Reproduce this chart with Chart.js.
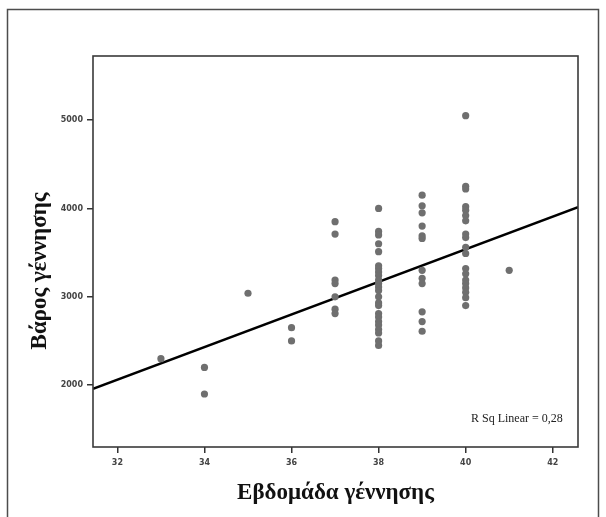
<!DOCTYPE html>
<html>
<head>
<meta charset="utf-8">
<title>Βάρος γέννησης</title>
<script src="https://cdn.jsdelivr.net/npm/chart.js@4.4.1/dist/chart.umd.min.js"></script>
<style>
  html, body { margin: 0; padding: 0; background: #fff; }
  canvas { display: block; }
</style>
</head>
<body>
<canvas id="grafico" width="606" height="517"></canvas>
<script>
// semanas y pesos, uno por punto
const semanas = [
    33,
    34, 34,
    35,
    36, 36,
    37, 37, 37, 37, 37, 37, 37,
    38, 38, 38, 38, 38, 38, 38, 38, 38, 38, 38, 38, 38, 38, 38, 38, 38, 38, 38, 38, 38, 38, 38, 38,
    39, 39, 39, 39, 39, 39, 39, 39, 39, 39, 39, 39,
    40, 40, 40, 40, 40, 40, 40, 40, 40, 40, 40, 40, 40, 40, 40, 40, 40, 40, 40,
    41
];
const pesos = [
    2300,
    2200, 1900,
    3040,
    2650, 2500,
    3850, 3710, 3190, 3150, 3000, 2860, 2810,
    4000, 3740, 3700, 3600, 3510, 3350, 3320, 3280, 3240, 3190, 3150, 3110, 3070, 3000, 2930, 2900, 2810, 2770, 2720, 2680, 2630, 2590, 2500, 2450,
    4150, 4030, 3950, 3800, 3690, 3660, 3300, 3210, 3150, 2830, 2720, 2610,
    5050, 4250, 4220, 4020, 3980, 3920, 3860, 3710, 3670, 3560, 3490, 3320, 3260, 3190, 3150, 3100, 3050, 2990, 2900,
    3300
];

const rectaX = [31.44, 42.58];
const rectaY = [1958, 4015];

const ticksX = [32, 34, 36, 38, 40, 42];
const ticksY = [2000, 3000, 4000, 5000];
const rangoX = [31.44, 42.58];
const rangoY = [1300, 5725];

const tituloX = 'Εβδομάδα γέννησης';
const tituloY = 'Βάρος γέννησης';
const textoR2 = 'R Sq Linear = 0,28';

const puntos = semanas.map((s, i) => ({ x: s, y: pesos[i] }));
const recta = rectaX.map((x, i) => ({ x: x, y: rectaY[i] }));

const fuenteTicks = { family: 'DejaVu Sans', size: 8, weight: 'bold' };
const fuenteTitulo = { family: 'Liberation Serif', size: 23, weight: 'bold' };

const marcoPlugin = {
    id: 'marco',
    beforeDraw(chart) {
        const ctx = chart.ctx;
        ctx.save();
        ctx.fillStyle = '#fff';
        ctx.fillRect(0, 0, chart.width, chart.height);
        ctx.restore();
    },
    afterDraw(chart) {
        const ctx = chart.ctx;
        const a = chart.chartArea;
        ctx.save();
        // marco exterior (sin borde inferior)
        ctx.strokeStyle = '#4d4d4d';
        ctx.lineWidth = 1.5;
        ctx.beginPath();
        ctx.moveTo(7.5, 517);
        ctx.lineTo(7.5, 9.5);
        ctx.lineTo(598.5, 9.5);
        ctx.lineTo(598.5, 517);
        ctx.stroke();
        // caja del grafico
        ctx.strokeStyle = '#3a3a3a';
        ctx.lineWidth = 1.6;
        ctx.strokeRect(a.left, a.top, a.right - a.left, a.bottom - a.top);
        // titulo eje Y
        ctx.fillStyle = '#111';
        ctx.font = 'bold 23px "Liberation Serif"';
        ctx.textAlign = 'center';
        ctx.textBaseline = 'middle';
        ctx.translate(40, 271);
        ctx.rotate(-Math.PI / 2);
        ctx.fillText(tituloY, 0, 0);
        ctx.restore();
        // R cuadrado
        ctx.save();
        ctx.fillStyle = '#222';
        ctx.font = '12px "Liberation Serif"';
        ctx.textAlign = 'left';
        ctx.textBaseline = 'alphabetic';
        ctx.fillText(textoR2, 471, 422);
        ctx.restore();
    }
};

new Chart(document.getElementById('grafico'), {
    type: 'scatter',
    data: {
        datasets: [
            {
                data: puntos,
                backgroundColor: '#6f6f6f',
                borderWidth: 0,
                pointRadius: 3.6,
                pointHoverRadius: 3.6
            },
            {
                type: 'line',
                data: recta,
                borderColor: '#000',
                borderWidth: 2.4,
                pointRadius: 0,
                fill: false
            }
        ]
    },
    options: {
        responsive: false,
        animation: false,
        devicePixelRatio: 1,
        layout: { padding: { left: 0, top: 56, right: 28, bottom: 0 } },
        plugins: {
            legend: { display: false },
            tooltip: { enabled: false }
        },
        scales: {
            x: {
                type: 'linear',
                min: rangoX[0],
                max: rangoX[1],
                afterBuildTicks: s => { s.ticks = ticksX.map(v => ({ value: v })); },
                afterFit: s => { s.height = 70; },
                border: { display: false },
                grid: { drawOnChartArea: false, drawTicks: true, tickLength: 6, tickColor: '#333', lineWidth: 1.5 },
                ticks: { font: fuenteTicks, color: '#444', padding: 5, maxRotation: 0, callback: v => String(v) },
                title: {
                    display: true,
                    text: tituloX,
                    color: '#111',
                    font: fuenteTitulo,
                    padding: { top: 0, bottom: 10 }
                }
            },
            y: {
                type: 'linear',
                min: rangoY[0],
                max: rangoY[1],
                afterBuildTicks: s => { s.ticks = ticksY.map(v => ({ value: v })); },
                afterFit: s => { s.width = 93; },
                border: { display: false },
                grid: { drawOnChartArea: false, drawTicks: true, tickLength: 6, tickColor: '#333', lineWidth: 1.5 },
                ticks: { font: fuenteTicks, color: '#444', padding: 4, callback: v => String(v) }
            }
        }
    },
    plugins: [marcoPlugin]
});
</script>
</body>
</html>
